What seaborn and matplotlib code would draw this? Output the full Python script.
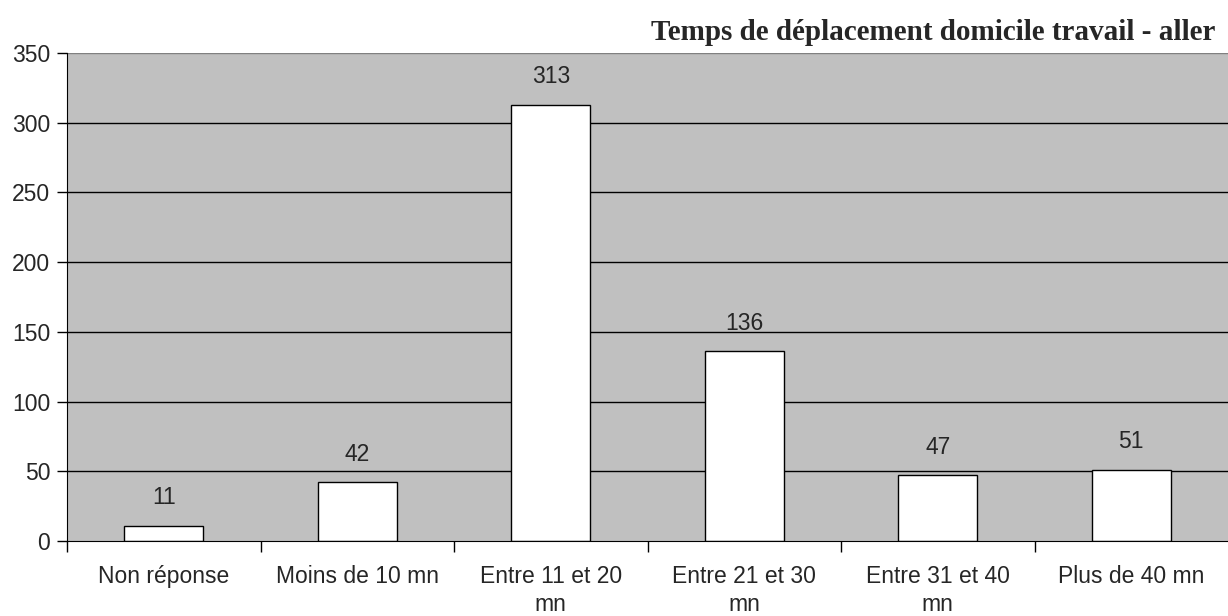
import numpy as np
import pandas as pd
import matplotlib
matplotlib.use("Agg")
import matplotlib.pyplot as plt
import seaborn as sns

categories = ["Non réponse", "Moins de 10 mn", "Entre 11 et 20\nmn", "Entre 21 et 30\nmn",
              "Entre 31 et 40\nmn", "Plus de 40 mn"]
values = [11, 42, 313, 136, 47, 51]

df = pd.DataFrame({"cat": categories, "val": values})

sns.set_style("white")
plt.rcParams["font.family"] = ["Liberation Sans", "DejaVu Sans"]

fig = plt.figure(figsize=(12.28, 6.16), dpi=100)
ax = fig.add_axes([67 / 1228, 1 - 541 / 616, 1 - 67 / 1228, (541 - 53) / 616])
ax.set_facecolor("#C0C0C0")

sns.barplot(data=df, x="cat", y="val", ax=ax, color="white", edgecolor="black",
            linewidth=1.0, width=0.41, saturation=1)

ax.set_ylim(0, 350)
ax.set_xlim(-0.5, 5.5)
ax.set_yticks(np.arange(0, 351, 50))
for y in range(50, 351, 50):
    ax.axhline(y, color="black" if y < 350 else "#808080", lw=1, zorder=0.5)

# value labels above the bars
for i, v in enumerate(values):
    ax.text(i, v + 12, str(v), ha="center", va="bottom", fontsize=16.5)

ax.set_xticks(np.arange(6))
ax.set_xticklabels(categories, fontsize=16.5, linespacing=1.3, va="top")
ax.set_xticks(np.arange(-0.5, 5, 1), minor=True)
ax.tick_params(axis="x", which="major", bottom=False, length=0, pad=17)
ax.tick_params(axis="x", which="minor", bottom=True, length=8, width=1, color="black",
               direction="out")
ax.tick_params(axis="y", left=True, length=7, width=1, color="black", direction="out",
               labelsize=16.5, pad=5)
ax.set_xlabel("")
ax.set_ylabel("")

for s in ["top", "right"]:
    ax.spines[s].set_visible(False)
ax.spines["left"].set_color("black")
ax.spines["bottom"].set_color("black")

fig.text(1215 / 1228, 1 - 40 / 616, "Temps de déplacement domicile travail - aller",
         ha="right", va="baseline", fontsize=21, fontweight="bold",
         family=["Liberation Serif", "DejaVu Serif"])

fig.savefig("out.png", dpi=100)
